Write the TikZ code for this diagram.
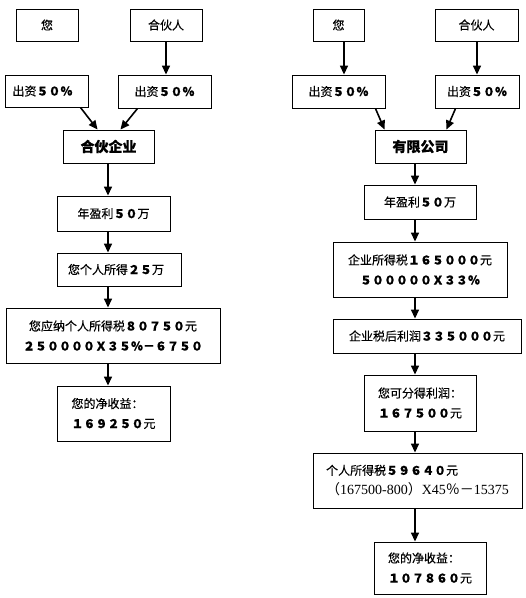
\documentclass[tikz,border=0pt]{standalone}
\usepackage{fontspec}
\setmainfont{Noto Sans CJK SC}[FakeBold=0.3]
\newfontfamily\cjklight{Noto Sans CJK SC}
\newfontfamily\serifnum{Liberation Serif}
\usetikzlibrary{arrows.meta,calc}
\newcommand\bd[1]{\textbf{#1}}
\begin{document}
\begin{tikzpicture}[x=1pt,y=-1pt,
  box/.style={draw=black, line width=0.9pt, inner sep=0pt, align=center,
    font=\fontsize{12}{20}\selectfont},
  title/.style={font=\fontsize{14}{20}\selectfont\bfseries},
  arr/.style={line width=1.6pt, -{Triangle[length=9pt,width=8pt]}}]
\useasboundingbox[fill=white] (0,0) rectangle (526,598);
% ---------- left column ----------
\node[box, minimum width=62pt, minimum height=32pt] (you1) at (47,25) {您};
\node[box, minimum width=72pt, minimum height=32pt] (par1) at (166,25) {合伙人};
\node[box, minimum width=83pt, minimum height=32pt] (lc1) at (46.5,91) {出资\bd{５０％}\hspace{8pt}};
\node[box, minimum width=93pt, minimum height=33pt] (rc1) at (164.5,91.5) {出资\bd{５０％}};
\node[box, title, minimum width=91pt, minimum height=33pt] (hp) at (108.5,146.5) {合伙企业};
\node[box, minimum width=113pt, minimum height=35pt] (yl1) at (113.5,213.5) {年盈利\bd{５０}万};
\node[box, minimum width=124pt, minimum height=33pt] (gr) at (119,269.5) {您个人所得\bd{２５}万\hspace{6pt}};
\node[box, minimum width=214pt, minimum height=55pt] (tax1) at (113,335.5)
  {您应纳个人所得税\bd{８０７５０}元\\\bd{２５００００Ｘ３５％－６７５０}};
\node[box, align=left, minimum width=113pt, minimum height=55pt] (net1) at (113.5,413.5)
  {您的净收益：\\\bd{１６９２５０}元};
\coordinate (lx) at (108,0);
\draw[arr] (par1.south) -- (rc1.north -| par1.south);
\draw[arr] ([xshift=-8pt]lc1.south east) -- ([xshift=35pt]hp.north west);
\draw[arr] ([xshift=20pt]rc1.south west) -- ([xshift=-34pt]hp.north east);
\draw[arr] (hp.south -| lx) -- (yl1.north -| lx);
\draw[arr] (yl1.south -| lx) -- (gr.north -| lx);
\draw[arr] (gr.south -| lx) -- (tax1.north -| lx);
\draw[arr] (tax1.south -| lx) -- (net1.north -| lx);
% ---------- right column ----------
\node[box, minimum width=51pt, minimum height=32pt] (you2) at (338.5,25) {您};
\node[box, minimum width=83pt, minimum height=32pt] (par2) at (476.5,25) {合伙人};
\node[box, minimum width=93pt, minimum height=33pt] (lc2) at (338.5,91.5) {出资\bd{５０％}};
\node[box, minimum width=84pt, minimum height=33pt] (rc2) at (477,91.5) {出资\bd{５０％}};
\node[box, title, minimum width=91pt, minimum height=33pt] (ltd) at (420.5,146.5) {有限公司};
\node[box, minimum width=112pt, minimum height=34pt] (yl2) at (420,202) {年盈利\bd{５０}万};
\node[box, minimum width=174pt, minimum height=55pt] (ctax) at (420,269.5)
  {企业所得税\bd{１６５０００}元\\\bd{５０００００Ｘ３３％}};
\node[box, minimum width=188pt, minimum height=34pt] (after) at (427,336)
  {企业税后利润\bd{３３５０００}元};
\node[box, align=left, minimum width=112pt, minimum height=56pt] (div) at (420,403)
  {您可分得利润：\\\bd{１６７５００}元};
\node[box, align=left, minimum width=209pt, minimum height=55pt] (ptax) at (417.5,480.5)
  {个人所得税\bd{５９６４０}元\\{\fontsize{14}{20}\selectfont\cjklight （{\serifnum 167500-800}）{\serifnum X45}％－{\serifnum 15375}}};
\node[box, align=left, minimum width=112pt, minimum height=52pt] (net2) at (430,568)
  {您的净收益：\\\bd{１０７８６０}元};
\coordinate (rx) at (415,0);
\coordinate (ax) at (344,0);
\coordinate (bx) at (477,0);
\draw[arr] (you2.south -| ax) -- (lc2.north -| ax);
\draw[arr] (par2.south -| bx) -- (rc2.north -| bx);
\draw[arr] ([xshift=-10pt]lc2.south east) -- ([xshift=10pt]ltd.north west);
\draw[arr] ([xshift=21pt]rc2.south west) -- ([xshift=-20pt]ltd.north east);
\draw[arr] (ltd.south -| rx) -- (yl2.north -| rx);
\draw[arr] (yl2.south -| rx) -- (ctax.north -| rx);
\draw[arr] (ctax.south -| rx) -- (after.north -| rx);
\draw[arr] (after.south -| rx) -- (div.north -| rx);
\draw[arr] (div.south -| rx) -- (ptax.north -| rx);
\draw[arr] (ptax.south -| rx) -- (net2.north -| rx);
\end{tikzpicture}
\end{document}
